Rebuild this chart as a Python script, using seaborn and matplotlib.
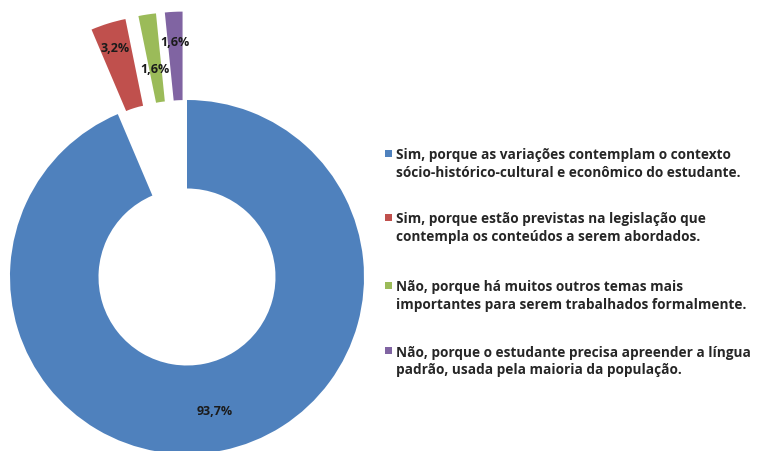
import numpy as np
import matplotlib
matplotlib.use("Agg")
import matplotlib.pyplot as plt
from matplotlib.patches import Rectangle
import seaborn as sns

# Survey answers and their shares (%)
categories = [
    "Sim, porque as variações contemplam o contexto\nsócio-histórico-cultural e econômico do estudante.",
    "Sim, porque estão previstas na legislação que\ncontempla os conteúdos a serem abordados.",
    "Não, porque há muitos outros temas mais\nimportantes para serem trabalhados formalmente.",
    "Não, porque o estudante precisa apreender a língua\npadrão, usada pela maioria da população.",
]
shares = [93.7, 3.2, 1.6, 1.6]
pct_labels = ["93,7%", "3,2%", "1,6%", "1,6%"]

colors = ["#4F81BD", "#C0504D", "#9BBB59", "#8064A2"]
explode = [0.0, 0.5, 0.5, 0.5]
# radial distance of each percentage label from the pie centre (in radii)
label_radius = [0.77, 1.36, 1.19, 1.33]

sns.set_theme(style="white")
plt.rcParams["font.family"] = ["Open Sans", "DejaVu Sans"]

W, H, DPI = 758, 452, 100
fig = plt.figure(figsize=(W / DPI, H / DPI), dpi=DPI)
ax = fig.add_axes([0, 0, 1, 1])

wedges, _ = ax.pie(
    shares,
    colors=colors,
    explode=explode,
    startangle=90,
    counterclock=False,
    radius=1.0,
    wedgeprops=dict(width=0.5, linewidth=0),
)

# percentage labels placed along each wedge's mid-angle
total = sum(shares)
start = 90.0
for val, txt, rr in zip(shares, pct_labels, label_radius):
    sweep = 360.0 * val / total
    mid = np.deg2rad(start - sweep / 2)
    start -= sweep
    ax.text(rr * np.cos(mid), rr * np.sin(mid), txt, ha="center", va="center",
            fontsize=9, fontweight="bold", color="#1b1b1b")

# pixel scale: outer radius 177 px, centre at (187, 278) from top-left
R = 177.0
cx, cy = 187.0, H - 278.0
ax.set_aspect("auto")
ax.set_xlim(-cx / R, (W - cx) / R)
ax.set_ylim(-cy / R, (H - cy) / R)
ax.axis("off")

# legend: square marker beside the first line of each two-line description
marker_y = [154, 218, 286, 351]
for lab, col, y in zip(categories, colors, marker_y):
    fig.patches.append(Rectangle((385 / W, 1 - (y + 3.5) / H), 7 / W, 7 / H,
                                 transform=fig.transFigure, facecolor=col,
                                 edgecolor="none"))
    for k, line in enumerate(lab.split("\n")):
        fig.text(396 / W, 1 - (y + 5.5 + 17.5 * k) / H, line, ha="left",
                 va="baseline", fontsize=9.8, fontweight="bold", color="#262626")

fig.savefig("out.png", dpi=DPI, facecolor="white")
